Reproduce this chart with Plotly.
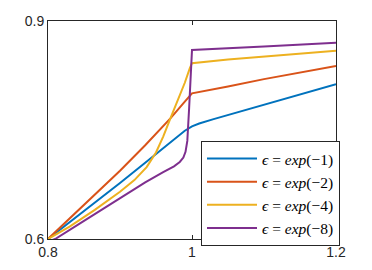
import plotly.graph_objects as go

# Series data
x_blue = [0.80, 0.85, 0.90, 0.935, 0.96, 0.98, 0.99, 1.00, 1.01, 1.03, 1.10, 1.20]
y_blue = [0.600, 0.638, 0.677, 0.705, 0.725, 0.741, 0.749, 0.755, 0.759, 0.765, 0.785, 0.813]

x_orange = [0.80, 0.85, 0.90, 0.935, 0.97, 0.99, 1.00, 1.05, 1.10, 1.20]
y_orange = [0.600, 0.647, 0.694, 0.729, 0.766, 0.789, 0.8005, 0.810, 0.820, 0.838]

x_yellow = [0.80, 0.83, 0.865, 0.90, 0.92, 0.937, 0.95, 0.96, 0.97, 0.98, 0.99, 0.997, 1.00, 1.05, 1.10, 1.20]
y_yellow = [0.600, 0.617, 0.640, 0.665, 0.681, 0.699, 0.719, 0.741, 0.766, 0.790, 0.815, 0.835, 0.842, 0.847, 0.851, 0.859]

x_purple = [0.80, 0.81, 0.85, 0.90, 0.935, 0.96, 0.975, 0.983, 0.988, 0.991, 0.9935, 0.996, 0.998, 0.9995, 1.00, 1.10, 1.20]
y_purple = [0.5965, 0.600, 0.625, 0.656, 0.678, 0.692, 0.700, 0.706, 0.712, 0.720, 0.735, 0.780, 0.830, 0.858, 0.860, 0.865, 0.870]

names = ["<i>ϵ</i> = <i>exp</i>(−1)", "<i>ϵ</i> = <i>exp</i>(−2)",
         "<i>ϵ</i> = <i>exp</i>(−4)", "<i>ϵ</i> = <i>exp</i>(−8)"]
colors = ["#0072BD", "#D95319", "#EDB120", "#7E2F8E"]

x_ticks = [0.8, 1.0, 1.2]
x_ticklabels = ["0.8", "1", "1.2"]
y_ticks = [0.6, 0.9]
y_ticklabels = ["0.6", "0.9"]

fig = go.Figure()
series = [(x_blue, y_blue), (x_orange, y_orange), (x_yellow, y_yellow), (x_purple, y_purple)]
for (xs, ys), nm, c in zip(series, names, colors):
    fig.add_trace(go.Scatter(x=xs, y=ys, mode="lines", name=nm,
                             line=dict(color=c, width=2)))

axis_common = dict(showline=True, linecolor="#262626", linewidth=1, mirror="ticks",
                   ticks="inside", ticklen=4, tickcolor="#262626", showgrid=False,
                   zeroline=False, automargin=False,
                   tickfont=dict(family="Liberation Sans, Arial", size=14, color="#262626"))

fig.update_xaxes(range=[0.8, 1.2], tickvals=x_ticks, ticktext=x_ticklabels, **axis_common)
fig.update_yaxes(range=[0.6, 0.9], tickvals=y_ticks, ticktext=y_ticklabels, **axis_common)

fig.update_layout(
    width=364, height=262,
    margin=dict(l=40, r=36, t=13, b=31, autoexpand=False),
    paper_bgcolor="white", plot_bgcolor="white",
    showlegend=True,
    legend=dict(x=1.0139, y=-0.032, xanchor="right", yanchor="bottom",
                bgcolor="white", bordercolor="#262626", borderwidth=1,
                font=dict(family="Liberation Serif, DejaVu Serif, serif", size=15.5, color="black"),
                itemwidth=50, traceorder="normal"),
)

fig.write_html("out.html")
